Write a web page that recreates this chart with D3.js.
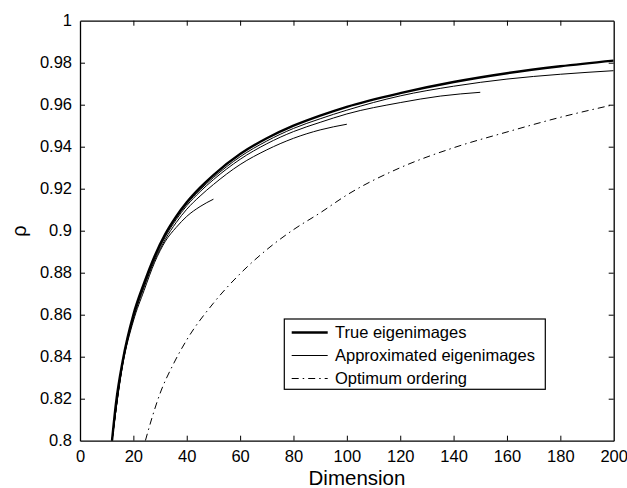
<!DOCTYPE html>
<html>
<head>
<meta charset="utf-8">
<script src="https://cdn.jsdelivr.net/npm/d3@7"></script>
<style>
  body { margin: 0; background: #fff; }
  svg text { font-family: "Liberation Sans", Arial, sans-serif; fill: #000; }
</style>
</head>
<body>
<div id="chart"></div>
<script>
// values
var dim_true = [12, 13.5, 16, 20, 24, 28, 32, 36, 40, 45, 50, 60, 70, 80, 90, 100, 120, 140, 160, 180, 200];
var rho_true = [0.800, 0.818, 0.838, 0.860, 0.875, 0.888, 0.8985, 0.9067, 0.9135, 0.9205, 0.9265, 0.9365, 0.944, 0.950, 0.9548, 0.959, 0.9655, 0.9708, 0.975, 0.9783, 0.981];

// approximated eigenimages, four runs (stopped at 50, 100, 150, 200)
var dim_app200 = [12, 16, 20, 24, 28, 32, 36, 40, 45, 50, 60, 70, 80, 90, 100, 120, 140, 160, 180, 200];
var rho_app200 = [0.800, 0.8375, 0.8595, 0.8745, 0.8875, 0.898, 0.906, 0.9127, 0.9195, 0.9253, 0.9352, 0.9427, 0.9487, 0.9533, 0.9574, 0.9642, 0.9688, 0.9722, 0.9745, 0.9762];
var dim_app150 = [12, 16, 20, 24, 28, 32, 36, 40, 45, 50, 60, 70, 80, 90, 100, 120, 135, 150];
var rho_app150 = [0.800, 0.837, 0.859, 0.874, 0.887, 0.8972, 0.9052, 0.9119, 0.9186, 0.9243, 0.934, 0.9414, 0.9472, 0.9516, 0.9556, 0.961, 0.9641, 0.9659];
var dim_app100 = [12, 16, 20, 24, 28, 32, 36, 40, 45, 50, 60, 70, 80, 90, 100];
var rho_app100 = [0.800, 0.8365, 0.858, 0.873, 0.886, 0.896, 0.9038, 0.9102, 0.9165, 0.922, 0.9315, 0.9385, 0.944, 0.948, 0.9507];
var dim_app50 = [12, 16, 20, 24, 28, 32, 36, 40, 45, 50];
var rho_app50 = [0.800, 0.836, 0.857, 0.8715, 0.885, 0.895, 0.9015, 0.9068, 0.9115, 0.915];

var dim_opt = [24.5, 27, 30, 35, 40, 50, 60, 70, 80, 90, 100, 120, 140, 160, 180, 200];
var rho_opt = [0.800, 0.811, 0.8225, 0.8365, 0.848, 0.8655, 0.8795, 0.891, 0.9005, 0.9085, 0.917, 0.930, 0.9395, 0.947, 0.954, 0.960];

var x_ticks = [0, 20, 40, 60, 80, 100, 120, 140, 160, 180, 200];
var y_ticks = [0.8, 0.82, 0.84, 0.86, 0.88, 0.9, 0.92, 0.94, 0.96, 0.98, 1];

var legend_names = ["True eigenimages", "Approximated eigenimages", "Optimum ordering"];

function zip(xs, ys) {
  var arr = [];
  for (var i in xs) {
    arr.push({ x: xs[i], y: ys[i] });
  }
  return arr;
}

var width = 627, height = 488;
// plot box (note: "top" is taken by window.top, so use other names)
var box_l = 80, box_r = 613.7, box_t = 20.7, box_b = 440.7;

var svg = d3.select("#chart").append("svg")
  .attr("width", width)
  .attr("height", height);

var x = d3.scaleLinear().domain([0, 200]).range([box_l, box_r]);
var y = d3.scaleLinear().domain([0.8, 1]).range([box_b, box_t]);
var fmt = function (d) { return String(+d.toFixed(2)); };

svg.append("defs").append("clipPath").attr("id", "plotclip")
  .append("rect")
  .attr("x", box_l).attr("y", box_t)
  .attr("width", box_r - box_l).attr("height", box_b - box_t);

// axes, ticks pointing inwards like matlab
var axB = svg.append("g").attr("transform", "translate(0," + box_b + ")")
  .call(d3.axisBottom(x).tickValues(x_ticks).tickSizeInner(-5).tickSizeOuter(0).tickPadding(10).tickFormat(fmt));
var axT = svg.append("g").attr("transform", "translate(0," + box_t + ")")
  .call(d3.axisTop(x).tickValues(x_ticks).tickSizeInner(-5).tickSizeOuter(0).tickFormat(""));
var axL = svg.append("g").attr("transform", "translate(" + box_l + ",0)")
  .call(d3.axisLeft(y).tickValues(y_ticks).tickSizeInner(-5).tickSizeOuter(0).tickPadding(8).tickFormat(fmt));
var axR = svg.append("g").attr("transform", "translate(" + box_r + ",0)")
  .call(d3.axisRight(y).tickValues(y_ticks).tickSizeInner(-5).tickSizeOuter(0).tickFormat(""));

svg.selectAll(".domain").attr("stroke", "#000").attr("stroke-width", 1.3);
svg.selectAll(".tick line").attr("stroke", "#000").attr("stroke-width", 1);
svg.selectAll(".tick text").attr("font-size", "16.5px").attr("fill", "#000")
  .style("font-family", '"Liberation Sans", Arial, sans-serif');
// the first/last tick lines sit on the frame, hide them
axB.selectAll(".tick line").filter(function (d) { return d == 0 || d == 200; }).remove();
axT.selectAll(".tick line").filter(function (d) { return d == 0 || d == 200; }).remove();
axL.selectAll(".tick line").filter(function (d) { return d == 0.8 || d == 1; }).remove();
axR.selectAll(".tick line").filter(function (d) { return d == 0.8 || d == 1; }).remove();

var line = d3.line()
  .x(function (d) { return x(d.x); })
  .y(function (d) { return y(d.y); })
  .curve(d3.curveMonotoneX);

var plot = svg.append("g").attr("clip-path", "url(#plotclip)");

var thin_sets = [
  zip(dim_app200, rho_app200),
  zip(dim_app150, rho_app150),
  zip(dim_app100, rho_app100),
  zip(dim_app50, rho_app50),
];
plot.selectAll("path.app").data(thin_sets).enter()
  .append("path")
  .attr("class", "app")
  .attr("d", line)
  .attr("fill", "none")
  .attr("stroke", "#000")
  .attr("stroke-width", 1);

plot.append("path")
  .datum(zip(dim_opt, rho_opt))
  .attr("d", line)
  .attr("fill", "none")
  .attr("stroke", "#000")
  .attr("stroke-width", 1)
  .attr("stroke-dasharray", "7,4,1.5,4");

plot.append("path")
  .datum(zip(dim_true, rho_true))
  .attr("d", line)
  .attr("fill", "none")
  .attr("stroke", "#000")
  .attr("stroke-width", 2.4);

// axis labels
svg.append("text")
  .attr("x", 357).attr("y", 485)
  .attr("text-anchor", "middle")
  .attr("font-size", "20.5px")
  .text("Dimension");

svg.append("text")
  .attr("transform", "translate(26,231) rotate(-90)")
  .attr("text-anchor", "middle")
  .attr("font-size", "20px")
  .text("ρ");

// legend
var lg = svg.append("g");
lg.append("rect")
  .attr("x", 284.3).attr("y", 319)
  .attr("width", 261).attr("height", 70.3)
  .attr("fill", "#fff")
  .attr("stroke", "#000")
  .attr("stroke-width", 1.2);

var lg_widths = [2.4, 1, 1];
var lg_dash = [null, null, "7,4,1.5,4"];
for (var i in legend_names) {
  var cy = 332.5 + i * 23;
  lg.append("line")
    .attr("x1", 291.7).attr("x2", 327.7)
    .attr("y1", cy).attr("y2", cy)
    .attr("stroke", "#000")
    .attr("stroke-width", lg_widths[i])
    .attr("stroke-dasharray", lg_dash[i]);
  lg.append("text")
    .attr("x", 335).attr("y", cy)
    .attr("dy", "0.36em")
    .attr("font-size", "16.5px")
    .text(legend_names[i]);
}
</script>
</body>
</html>
